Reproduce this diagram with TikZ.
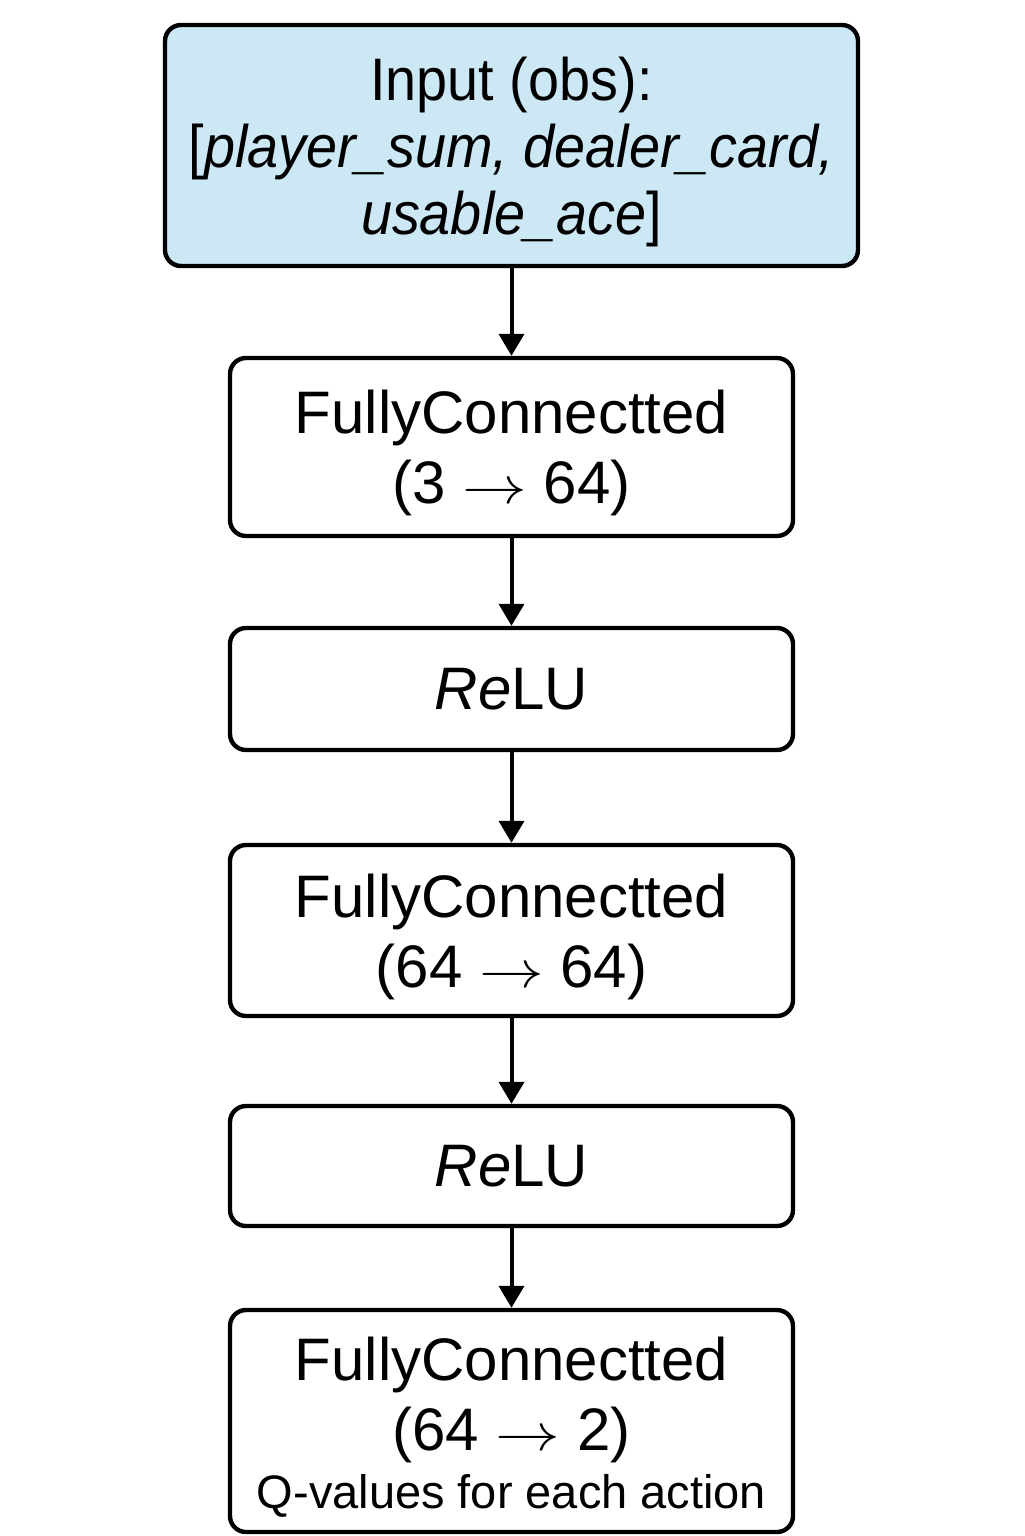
\documentclass[tikz,border=0pt]{standalone}
\usepackage{fontspec}
\usepackage{graphicx}
\setmainfont{Liberation Sans}
\newfontfamily\condfont{Liberation Sans}[FakeStretch=0.93]
\usetikzlibrary{arrows.meta}
\definecolor{inblue}{RGB}{204,232,245}
\newcommand{\tarr}{\scalebox{1.3}[1.05]{$\rightarrow$}}
\newcommand{\topstrut}{\rule{0pt}{28pt}}
\begin{document}
\begin{tikzpicture}[x=0.5pt,y=-0.5pt,
  box/.style={draw=black, line width=2.2pt, rounded corners=8pt, align=center,
    inner sep=0pt, minimum width=281.5pt, font=\fontsize{30}{35}\selectfont},
  conn/.style={line width=2pt, -{Triangle[width=12.5pt,length=11pt]}}]
\useasboundingbox (0,0) rectangle (1024,1536);
\node[box, fill=inblue, minimum width=346.5pt, minimum height=120.5pt,
  font=\condfont\fontsize{30}{33.5}\selectfont] (in) at (511.5,145.5)
  {\topstrut Input (obs):\\ {[}\textit{player\_sum, dealer\_card,}\\ \textit{usable\_ace}]};
\node[box, minimum height=89pt] (fc1) at (511.5,447)
  {\topstrut FullyConnectted\\ (3 \tarr{} 64)};
\node[box, minimum height=61pt] (r1) at (511.5,689) {\textit{Re}LU};
\node[box, minimum height=85.5pt] (fc2) at (511.5,930.5)
  {\topstrut FullyConnectted\\ (64 \tarr{} 64)};
\node[box, minimum height=60pt] (r2) at (511.5,1166) {\textit{Re}LU};
\node[box, minimum height=111pt] (fc3) at (511.5,1421)
  {\topstrut FullyConnectted\\ (64 \tarr{} 2)\\[-6pt] {\fontsize{23.5}{29}\selectfont Q-values for each action}};
\draw[conn] (in.south) -- (fc1.north);
\draw[conn] (fc1.south) -- (r1.north);
\draw[conn] (r1.south) -- (fc2.north);
\draw[conn] (fc2.south) -- (r2.north);
\draw[conn] (r2.south) -- (fc3.north);
\end{tikzpicture}
\end{document}
